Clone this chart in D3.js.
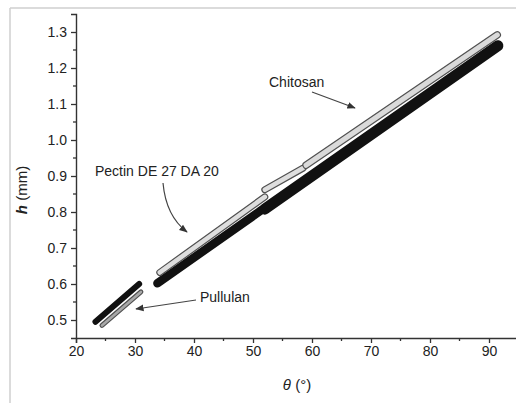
<!DOCTYPE html>
<html>
<head>
<meta charset="utf-8">
<script src="https://cdn.jsdelivr.net/npm/d3@7"></script>
<style>
  html, body { margin: 0; padding: 0; background: #fff; }
  svg { display: block; }
  text { font-family: "Liberation Sans", Arial, sans-serif; fill: #222; }
</style>
</head>
<body>
<svg id="chart" width="516" height="403"></svg>
<script>
// Axis ticks
const thetaTicks = [20, 30, 40, 50, 60, 70, 80, 90];
const thetaMinor = [25, 35, 45, 55, 65, 75, 85];
const hTicks = [0.5, 0.6, 0.7, 0.8, 0.9, 1.0, 1.1, 1.2, 1.3];
const hMinor = [0.55, 0.65, 0.75, 0.85, 0.95, 1.05, 1.15, 1.25];

// Measured drop height h (mm) against contact angle θ (°), as [θ, h]
const pullulanUpper = [[23.3, 0.495], [30.7, 0.600]];
const pullulanLower = [[24.4, 0.485], [31.0, 0.578]];
const pectinLow     = [[33.8, 0.602], [51.5, 0.806]];
const pectinHigh    = [[52.0, 0.808], [91.5, 1.262]];
const chitosanLow   = [[34.2, 0.632], [52.0, 0.842]];
const chitosanStep  = [[52.0, 0.862], [58.5, 0.922]];
const chitosanHigh  = [[59.0, 0.930], [91.4, 1.292]];

const svg = d3.select("#chart");

// Outer figure frame
svg.append("line").attr("x1", 10).attr("y1", 8).attr("x2", 516).attr("y2", 8)
  .attr("stroke", "#cfcfcf").attr("stroke-width", 1.5);
svg.append("line").attr("x1", 10).attr("y1", 8).attr("x2", 10).attr("y2", 403)
  .attr("stroke", "#cfcfcf").attr("stroke-width", 1.5);

const x = d3.scaleLinear().domain([20, 95]).range([76, 518.5]);
const y = d3.scaleLinear().domain([0.45, 1.35]).range([338, 14]);

const line = d3.line().x(d => x(d[0])).y(d => y(d[1]));

// Black bands
function black(data, w) {
  svg.append("path").attr("d", line(data)).attr("fill", "none")
    .attr("stroke", "#111").attr("stroke-width", w).attr("stroke-linecap", "round");
}
// Light bands with a dark outline
function outlined(data, w, fill) {
  svg.append("path").attr("d", line(data)).attr("fill", "none")
    .attr("stroke", "#505050").attr("stroke-width", w).attr("stroke-linecap", "round");
  svg.append("path").attr("d", line(data)).attr("fill", "none")
    .attr("stroke", fill).attr("stroke-width", w - 2.4).attr("stroke-linecap", "round");
}

outlined(pullulanLower, 5, "#a8a8a8");
black(pullulanUpper, 6);
black(pectinLow, 8.5);
black(pectinHigh, 11);
outlined(chitosanLow, 7, "#dedede");
outlined(chitosanStep, 7, "#dedede");
outlined(chitosanHigh, 7.5, "#dadada");

// Axes
const axisColor = "#333";
const xAxis = svg.append("g").attr("transform", "translate(0,338)")
  .call(d3.axisBottom(x).tickValues(thetaTicks).tickSize(5).tickPadding(3).tickFormat(d3.format("d")));
xAxis.append("g").selectAll("line").data(thetaMinor).join("line")
  .attr("x1", d => x(d)).attr("x2", d => x(d)).attr("y1", 0).attr("y2", 3);
const yAxis = svg.append("g").attr("transform", "translate(76,0)")
  .call(d3.axisLeft(y).tickValues(hTicks).tickSize(5).tickPadding(4).tickFormat(d3.format(".1f")));
yAxis.append("g").selectAll("line").data(hMinor).join("line")
  .attr("x1", 0).attr("x2", -3).attr("y1", d => y(d)).attr("y2", d => y(d));

[xAxis, yAxis].forEach(g => {
  g.select(".domain").attr("stroke", axisColor).attr("stroke-width", 1.4);
  g.selectAll("line").attr("stroke", axisColor).attr("stroke-width", 1.3);
  g.selectAll("text").attr("font-size", 14).attr("font-family", "Liberation Sans, Arial, sans-serif")
    .attr("fill", "#222");
});

// Axis titles
const yt = svg.append("text").attr("transform", "translate(27,190) rotate(-90)")
  .attr("text-anchor", "middle").attr("font-size", 15);
yt.append("tspan").attr("font-style", "italic").attr("font-weight", "bold").text("h");
yt.append("tspan").text(" (mm)");
const xt = svg.append("text").attr("x", 297).attr("y", 390)
  .attr("text-anchor", "middle").attr("font-size", 15);
xt.append("tspan").attr("font-style", "italic").text("θ");
xt.append("tspan").text(" (°)");

// Annotations
svg.append("defs").append("marker").attr("id", "arrow")
  .attr("viewBox", "0 0 10 10").attr("refX", 9).attr("refY", 5)
  .attr("markerWidth", 7).attr("markerHeight", 7).attr("orient", "auto")
  .append("path").attr("d", "M0,1 L10,5 L0,9 Z").attr("fill", "#333");

const note = (txt, tx, ty, path) => {
  svg.append("text").attr("x", tx).attr("y", ty).attr("font-size", 14).text(txt);
  svg.append("path").attr("d", path).attr("fill", "none").attr("stroke", "#444")
    .attr("stroke-width", 1.2).attr("marker-end", "url(#arrow)");
};
note("Chitosan", 269, 87, "M312,92 L355,108");
note("Pectin DE 27 DA 20", 95, 176, "M163,183 Q166,216 187,232");
note("Pullulan", 200, 302, "M196,300 L136,309");
</script>
</body>
</html>
